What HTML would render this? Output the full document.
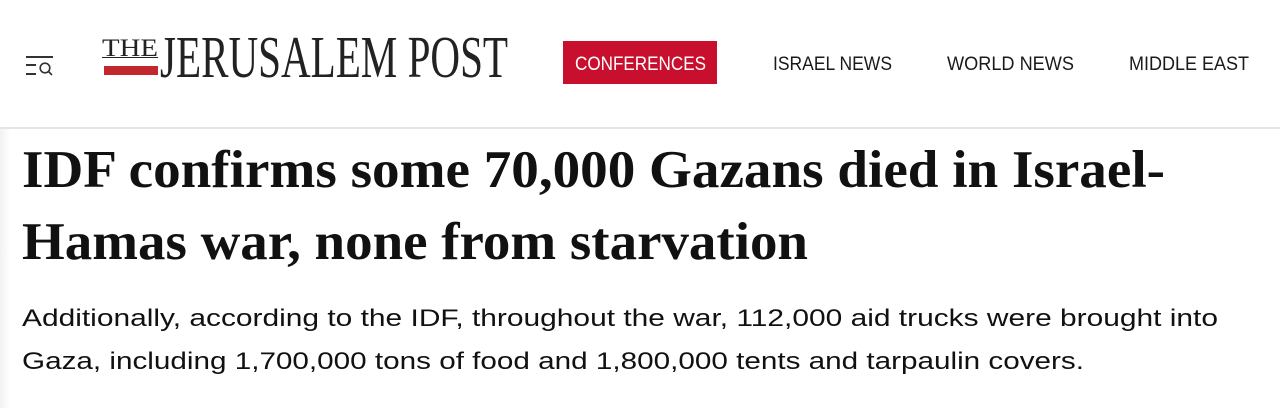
<!DOCTYPE html>
<html><head><meta charset="utf-8"><style>
html,body{margin:0;padding:0;background:#fff;width:1280px;height:408px;overflow:hidden;position:relative}
.a{position:absolute;white-space:nowrap;line-height:1;transform-origin:0 0;color:#1a1a1a}
.s{font-family:"Liberation Sans",sans-serif}
.f{font-family:"Liberation Serif",serif}
#hdr{position:absolute;left:0;top:0;width:1280px;height:127px;background:#fff;border-bottom:2px solid #e4e4e4}
#btn{position:absolute;left:563px;top:41px;width:154px;height:43px;background:#c8102e}
#edge{position:absolute;left:0;top:129px;width:10px;height:279px;background:linear-gradient(90deg,#f2f2f2,#fff)}
</style></head><body>
<div id="hdr"></div>
<div id="edge"></div>
<!-- menu icon -->
<div style="position:absolute;left:26px;top:56px;width:27px;height:1.5px;background:#333"></div>
<div style="position:absolute;left:26px;top:64px;width:10px;height:1.5px;background:#333"></div>
<div style="position:absolute;left:26px;top:73px;width:10px;height:1.5px;background:#333"></div>
<svg style="position:absolute;left:38px;top:61px" width="18" height="16"><circle cx="7" cy="7" r="4.8" fill="none" stroke="#333" stroke-width="1.6"/><line x1="10.5" y1="10.5" x2="14" y2="14" stroke="#333" stroke-width="1.6"/></svg>
<!-- logo -->
<div id="the" class="a f" style="left:102px;top:36px;font-size:25px;color:#222;text-decoration:underline;text-decoration-thickness:1px">THE</div>
<div style="position:absolute;left:104px;top:66px;width:54px;height:9px;background:#c1272d"></div>
<div id="jp" class="a f" style="left:160px;top:28px;font-size:59px;color:#222">JERUSALEM POST</div>
<!-- nav -->
<div id="btn"></div>
<div id="n0" class="a s" style="left:575px;top:55px;font-size:19px;color:#fff">CONFERENCES</div>
<div id="n1" class="a s" style="left:773px;top:55px;font-size:19px">ISRAEL NEWS</div>
<div id="n2" class="a s" style="left:947px;top:55px;font-size:19px">WORLD NEWS</div>
<div id="n3" class="a s" style="left:1129px;top:55px;font-size:19px">MIDDLE EAST</div>
<!-- headline -->
<div id="h1" class="a f" style="left:22px;top:144px;font-size:53px;font-weight:bold;color:#111">IDF confirms some 70,000 Gazans died in Israel-</div>
<div id="h2" class="a f" style="left:22px;top:216px;font-size:53px;font-weight:bold;color:#111">Hamas war, none from starvation</div>
<!-- sub -->
<div id="p1" class="a s" style="left:22px;top:307px;font-size:24px;color:#111">Additionally, according to the IDF, throughout the war, 112,000 aid trucks were brought into</div>
<div id="p2" class="a s" style="left:22px;top:350px;font-size:24px;color:#111">Gaza, including 1,700,000 tons of food and 1,800,000 tents and tarpaulin covers.</div>
<script>
[["the",56],["jp",348],["n0",131],["n1",119],["n2",127],["n3",120],["h1",1143],["h2",786],["p1",1196],["p2",1062]].forEach(function(a){
var e=document.getElementById(a[0]);var w=e.getBoundingClientRect().width;if(w>0)e.style.transform="scaleX("+(a[1]/w)+")";});
</script>
</body></html>
